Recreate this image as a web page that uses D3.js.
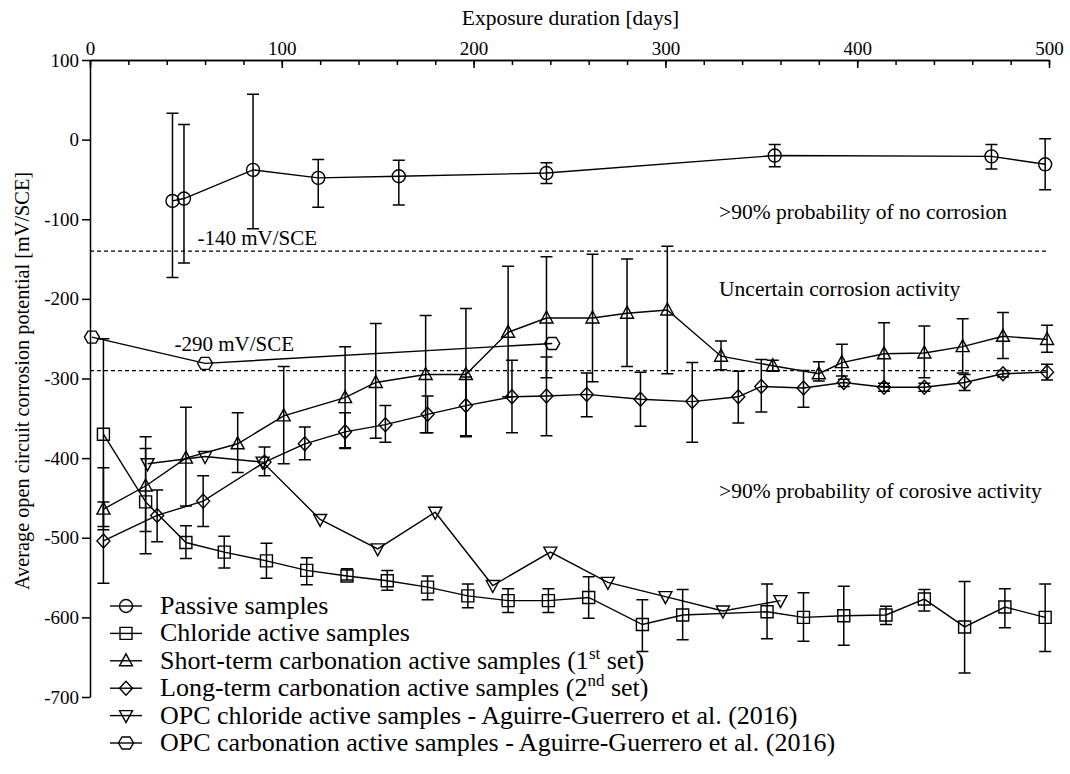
<!DOCTYPE html>
<html>
<head>
<meta charset="utf-8">
<script src="https://cdn.jsdelivr.net/npm/d3@7"></script>
<style>
body { margin: 0; background: #fff; }
text { font-family: "Liberation Serif", "Times New Roman", serif; fill: #000; }
</style>
</head>
<body>
<div id="chart"></div>
<script>
// Passive samples (circles)
var passiveDays = [43, 49, 85, 119, 161, 238, 357, 470, 498];
var passiveMean = [-77, -74, -38, -48, -46, -42, -20, -21, -31];
var passiveLo   = [-173, -155, -112, -85, -82, -55, -34, -37, -63];
var passiveHi   = [33, 19, 57, -25, -26, -29, -6, -6, 1];

// Chloride active samples (squares)
var chlorideDays = [7, 29, 50, 70, 92, 113, 134, 155, 176, 197, 218, 239, 260, 288, 309, 353, 372, 393, 415, 435, 456, 477, 498];
var chlorideMean = [-370, -455, -506, -518, -529, -541, -548, -554, -562, -573, -579, -579, -575, -609, -597, -593, -600, -598, -597, -577, -612, -587, -600];
var chlorideLo   = [-490, -520, -526, -538, -551, -559, -553, -566, -578, -588, -594, -594, -601, -643, -628, -627, -630, -635, -609, -592, -670, -613, -643];
var chlorideHi   = [-250, -388, -485, -498, -507, -525, -539, -541, -548, -558, -564, -564, -549, -578, -565, -558, -569, -561, -586, -565, -555, -564, -558];

// Short-term carbonation active samples, 1st set (triangles)
var shortDays = [7, 29, 50, 77, 101, 133, 149, 175, 196, 218, 238, 262, 280, 301, 329, 356, 380, 392, 414, 435, 455, 476, 499];
var shortMean = [-464, -435, -400, -382, -347, -324, -305, -295, -295, -242, -224, -224, -218, -214, -272, -284, -294, -280, -269, -268, -260, -247, -251];
var shortLo   = [-486, -492, -460, -418, -407, -388, -375, -368, -373, -323, -299, -304, -285, -294, -289, -291, -303, -297, -310, -299, -293, -275, -267];
var shortHi   = [-412, -373, -336, -343, -285, -260, -231, -221, -212, -159, -147, -144, -150, -134, -253, -277, -279, -257, -230, -234, -225, -217, -233];

// Long-term carbonation active samples, 2nd set (diamonds)
var longDays = [7, 35, 59, 91, 112, 133, 154, 176, 196, 220, 238, 259, 287, 314, 338, 350, 372, 393, 414, 435, 456, 476, 499];
var longMean = [-504, -472, -454, -405, -382, -367, -358, -345, -334, -323, -322, -320, -326, -329, -323, -310, -312, -305, -311, -311, -305, -294, -292];
var longLo   = [-557, -505, -486, -422, -402, -387, -380, -368, -372, -368, -372, -348, -360, -380, -356, -342, -336, -310, -316, -316, -315, -298, -302];
var longHi   = [-455, -440, -422, -386, -361, -343, -334, -322, -298, -277, -273, -293, -292, -280, -291, -276, -290, -301, -306, -306, -295, -290, -282];

// Aguirre-Guerrero et al. (2016)
var opcClDays = [30, 60, 90, 120, 150, 180, 210, 240, 270, 300, 330, 360];
var opcClMean = [-407, -398, -405, -477, -514, -468, -560, -518, -556, -574, -592, -579];
var opcCarbDays = [1, 60, 241];
var opcCarbMean = [-248, -281, -256];

// axes / labels
var xTicks = [0, 100, 200, 300, 400, 500];
var yTicks = [100, 0, -100, -200, -300, -400, -500, -600, -700];
var thresholds = [-140, -290];
var thresholdLabels = ["-140 mV/SCE", "-290 mV/SCE"];
var zoneLabels = [">90% probability of no corrosion", "Uncertain corrosion activity", ">90% probability of corosive activity"];
var zoneValues = [-100, -197, -450];
var legendLabels = [
    "Passive samples",
    "Chloride active samples",
    "Short-term carbonation active samples (1|st| set)",
    "Long-term carbonation active samples (2|nd| set)",
    "OPC chloride active samples - Aguirre-Guerrero et al. (2016)",
    "OPC carbonation active samples - Aguirre-Guerrero et al. (2016)"
];

var margin = {top: 60, bottom: 77, left: 90, right: 21};
var W = 1070, H = 774;
var width = W - margin.left - margin.right;
var height = H - margin.top - margin.bottom;

var svg = d3.select('#chart').append('svg')
    .attr('width', W)
    .attr('height', H);
var g = svg.append('g').attr('transform', `translate(${margin.left},${margin.top})`);

var x = d3.scaleLinear().domain([0, 500]).range([0, width]);
var y = d3.scaleLinear().domain([-700, 100]).range([height, 0]);

// marker shapes
var shapes = {
    circle: 'M6.5,0A6.5,6.5 0 1,1 -6.5,0A6.5,6.5 0 1,1 6.5,0Z',
    square: 'M-6,-6H6V6H-6Z',
    triangle: 'M0,-7L6.5,5H-6.5Z',
    diamond: 'M0,-7L6.5,0L0,7L-6.5,0Z',
    triangleDown: 'M0,7L6.5,-5H-6.5Z',
    hexagon: 'M-7.5,0L-4,-6H4L7.5,0L4,6H-4Z'
};

function makeSeries(days, mean, lo, hi) {
    return days.map(function(d, i) {
        return {day: d, value: mean[i], lo: lo ? lo[i] : null, hi: hi ? hi[i] : null};
    });
}

var series = [
    {shape: 'circle', data: makeSeries(passiveDays, passiveMean, passiveLo, passiveHi)},
    {shape: 'square', data: makeSeries(chlorideDays, chlorideMean, chlorideLo, chlorideHi)},
    {shape: 'triangle', data: makeSeries(shortDays, shortMean, shortLo, shortHi)},
    {shape: 'diamond', data: makeSeries(longDays, longMean, longLo, longHi)},
    {shape: 'triangleDown', data: makeSeries(opcClDays, opcClMean)},
    {shape: 'hexagon', data: makeSeries(opcCarbDays, opcCarbMean)}
];

// threshold lines
g.selectAll('line.thr').data(thresholds).enter().append('line')
    .attr('x1', 0).attr('x2', width)
    .attr('y1', d => y(d)).attr('y2', d => y(d))
    .attr('stroke', '#000').attr('stroke-width', 1.3)
    .attr('stroke-dasharray', '4,3');

g.append('text').attr('x', x(56)).attr('y', y(-140) - 6)
    .style('font-size', '21px').text(thresholdLabels[0]);
g.append('text').attr('x', x(44)).attr('y', y(-290) - 20)
    .style('font-size', '21px').text(thresholdLabels[1]);

g.selectAll('text.zone').data(zoneLabels).enter().append('text')
    .attr('class', 'zone')
    .attr('x', x(328))
    .attr('y', (d, i) => y(zoneValues[i]))
    .style('font-size', '21.5px')
    .text(d => d);

// error bars
var capW = 6;
series.forEach(function(s) {
    var eb = s.data.filter(d => d.lo !== null);
    var grp = g.append('g').attr('stroke', '#000').attr('stroke-width', 1.5).attr('fill', 'none');
    grp.selectAll('path').data(eb).enter().append('path')
        .attr('d', function(d) {
            var cx = x(d.day), y1 = y(d.hi), y2 = y(d.lo);
            return `M${cx},${y1}V${y2}M${cx - capW},${y1}H${cx + capW}M${cx - capW},${y2}H${cx + capW}`;
        });
});

// lines
var lineGen = d3.line().x(d => x(d.day)).y(d => y(d.value));
series.forEach(function(s) {
    g.append('path').datum(s.data)
        .attr('d', lineGen)
        .attr('fill', 'none')
        .attr('stroke', '#000')
        .attr('stroke-width', 1.4);
});

// markers
series.forEach(function(s) {
    g.append('g').selectAll('path').data(s.data).enter().append('path')
        .attr('transform', d => `translate(${x(d.day)},${y(d.value)})`)
        .attr('d', shapes[s.shape])
        .attr('fill', 'none')
        .attr('stroke', '#000')
        .attr('stroke-width', 1.4);
});

// axes
var xAxis = d3.axisTop(x).tickValues(xTicks).tickSizeInner(-8).tickSizeOuter(0).tickPadding(5);
var xMinor = d3.axisTop(x).tickValues(d3.range(0, 501, 20)).tickSizeInner(-5).tickSizeOuter(0).tickFormat('');
var yAxis = d3.axisLeft(y).tickValues(yTicks).tickSizeInner(8).tickSizeOuter(0).tickPadding(3)
    .tickFormat(d => String(d));

g.append('g').attr('class', 'x minor').call(xMinor);
var gx = g.append('g').attr('class', 'x axis').call(xAxis);
var gy = g.append('g').attr('class', 'y axis').call(yAxis);

[gx, gy].forEach(function(a) {
    a.selectAll('text').style('font-size', '19px').style('font-family', '"Liberation Serif", serif');
});
g.selectAll('.axis path, .axis line, .minor line, .minor path')
    .attr('stroke', '#000').attr('stroke-width', 1.5);

svg.append('text')
    .attr('x', margin.left + x(250) + 1)
    .attr('y', 25)
    .attr('text-anchor', 'middle')
    .style('font-size', '21.5px')
    .text('Exposure duration [days]');

svg.append('text')
    .attr('transform', 'translate(29,381) rotate(-90)')
    .attr('text-anchor', 'middle')
    .style('font-size', '20.3px')
    .text('Average open circuit corrosion potential [mV/SCE]');

// legend
var legend = svg.append('g').attr('transform', 'translate(0,606)');
var rowH = 27.4;
legendLabels.forEach(function(label, i) {
    var row = legend.append('g').attr('transform', `translate(0,${i * rowH})`);
    row.append('line').attr('x1', 110).attr('x2', 142).attr('y1', 0).attr('y2', 0)
        .attr('stroke', '#000').attr('stroke-width', 1.4);
    row.append('path').attr('transform', 'translate(126,0)')
        .attr('d', shapes[series[i].shape])
        .attr('fill', 'none').attr('stroke', '#000').attr('stroke-width', 1.4);
    var t = row.append('text').attr('x', 160).attr('y', 8).style('font-size', '26px');
    var parts = label.split('|');
    parts.forEach(function(p, j) {
        var ts = t.append('tspan').text(p);
        if (j === 1) ts.attr('dy', -10).style('font-size', '17px');
        if (j === 2) ts.attr('dy', 10);
    });
});
</script>
</body>
</html>
